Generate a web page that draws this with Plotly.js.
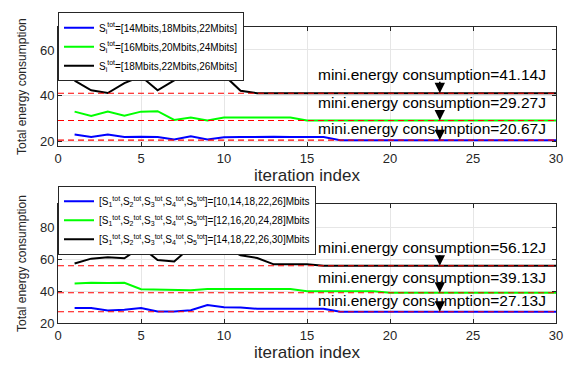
<!DOCTYPE html>
<html>
<head>
<meta charset="utf-8">
<script src="https://cdn.plot.ly/plotly-3.0.1.min.js"></script>
<style>html,body{margin:0;padding:0;background:#fff;}#chart{width:570px;height:366px;}</style>
</head>
<body>
<div id="chart"></div>
<script>
// ---- data ----
const iterations = [1,2,3,4,5,6,7,8,9,10,11,12,13,14,15,16,17,18,19,20,21,22,23,24,25,26,27,28,29,30];

// top panel: S_i^tot sets
const topNames = [
  'S<sub>i</sub><sup>tot</sup>=[14Mbits,18Mbits,22Mbits]',
  'S<sub>i</sub><sup>tot</sup>=[16Mbits,20Mbits,24Mbits]',
  'S<sub>i</sub><sup>tot</sup>=[18Mbits,22Mbits,26Mbits]'
];
const topBlue  = [23.1,22.0,23.1,22.0,22.2,22.0,21.0,22.4,21.0,21.9,22.0,22.2,22.2,22.0,22.0,22.0,20.67,20.67,20.67,20.67,20.67,20.67,20.67,20.67,20.67,20.67,20.67,20.67,20.67,20.67];
const topGreen = [33.1,31.2,33.2,31.3,33.1,33.3,29.5,30.5,29.3,30.5,30.5,30.5,30.5,30.5,29.27,29.27,29.27,29.27,29.27,29.27,29.27,29.27,29.27,29.27,29.27,29.27,29.27,29.27,29.27,29.27];
const topBlack = [46.6,42.4,41.2,45.5,48.5,42.4,46.7,51.0,52.0,49.0,42.2,41.14,41.14,41.14,41.14,41.14,41.14,41.14,41.14,41.14,41.14,41.14,41.14,41.14,41.14,41.14,41.14,41.14,41.14,41.14];
const topMin   = [20.67, 29.27, 41.14];

// bottom panel: five-user sets
const botNames = [
  '[S<sub>1</sub><sup>tot</sup>,S<sub>2</sub><sup>tot</sup>,S<sub>3</sub><sup>tot</sup>,S<sub>4</sub><sup>tot</sup>,S<sub>5</sub><sup>tot</sup>]=[10,14,18,22,26]Mbits',
  '[S<sub>1</sub><sup>tot</sup>,S<sub>2</sub><sup>tot</sup>,S<sub>3</sub><sup>tot</sup>,S<sub>4</sub><sup>tot</sup>,S<sub>5</sub><sup>tot</sup>]=[12,16,20,24,28]Mbits',
  '[S<sub>1</sub><sup>tot</sup>,S<sub>2</sub><sup>tot</sup>,S<sub>3</sub><sup>tot</sup>,S<sub>4</sub><sup>tot</sup>,S<sub>5</sub><sup>tot</sup>]=[14,18,22,26,30]Mbits'
];
const botBlue  = [29.4,29.4,27.9,28.3,29.4,27.2,27.2,28.0,31.3,30.0,29.8,29.0,29.0,29.0,29.0,29.0,27.13,27.13,27.13,27.13,27.13,27.13,27.13,27.13,27.13,27.13,27.13,27.13,27.13,27.13];
const botGreen = [45.0,45.4,45.2,45.4,41.3,41.0,40.6,40.6,41.5,41.5,41.5,41.5,41.5,41.5,40.0,40.0,40.0,40.0,40.0,39.13,39.13,39.13,39.13,39.13,39.13,39.13,39.13,39.13,39.13,39.13];
const botBlack = [57.5,60.6,61.5,60.8,68.0,59.8,58.8,68.0,70.0,68.0,62.7,61.0,57.0,57.0,57.0,56.12,56.12,56.12,56.12,56.12,56.12,56.12,56.12,56.12,56.12,56.12,56.12,56.12,56.12,56.12];
const botMin   = [27.13, 39.13, 56.12];

const xRange = [0, 30];
const arrowIter = 23;
const labelIter = 22.5;
const topLabelY = [25.7, 37.2, 49.4];
const topArrowTail = [23.3, 34.3, 46.8];
const botLabelY = [34.2, 48.75, 67.5];
const botArrowTail = [33.3, 46.7, 63.75];

// ---- styling ----
const colors = ['#0000ff', '#00ff00', '#000000'];
const FONT = 'Liberation Sans, Arial, Helvetica, sans-serif';

const traces = [];
function addPanel(series, names, mins, xa, ya, legendId) {
  series.forEach((ys, i) => {
    traces.push({x: iterations, y: ys, xaxis: xa, yaxis: ya, type: 'scatter', mode: 'lines',
      name: names[i], legend: legendId, line: {color: colors[i], width: 2}});
  });
  mins.forEach(m => {
    traces.push({x: xRange, y: [m, m], xaxis: xa, yaxis: ya, type: 'scatter', mode: 'lines',
      showlegend: false, hoverinfo: 'skip', line: {color: '#ff0000', width: 1.1, dash: '6px,4px'}});
  });
}
addPanel([topBlue, topGreen, topBlack], topNames, topMin, 'x', 'y', 'legend');
addPanel([botBlue, botGreen, botBlack], botNames, botMin, 'x2', 'y2', 'legend2');

const annotations = [];
function addNotes(mins, labelY, tails, xr, yr) {
  mins.forEach((m, i) => {
    annotations.push({xref: xr, yref: yr, x: labelIter, y: labelY[i], showarrow: false,
      text: 'mini.energy consumption=' + m.toFixed(2) + 'J',
      font: {family: FONT, size: 15.5, color: '#000'}, bgcolor: 'rgba(0,0,0,0)'});
    annotations.push({xref: xr, yref: yr, axref: xr, ayref: yr, x: arrowIter, y: m,
      ax: arrowIter, ay: tails[i], text: '', showarrow: true, arrowhead: 2, arrowsize: 1.3,
      arrowwidth: 1.6, arrowcolor: '#000', standoff: 0});
  });
}
addNotes(topMin, topLabelY, topArrowTail, 'x', 'y');
addNotes(botMin, botLabelY, botArrowTail, 'x2', 'y2');

function xAxis(anchor) {
  return {anchor: anchor, range: xRange, dtick: 5, tick0: 0, showgrid: true, gridcolor: '#e6e6e6',
    zeroline: false, showline: true, linecolor: '#262626', linewidth: 1, mirror: 'ticks',
    ticks: 'inside', ticklen: 4, tickcolor: '#262626',
    tickfont: {family: FONT, size: 13, color: '#262626'},
    title: {text: 'iteration index', font: {family: FONT, size: 17, color: '#262626'}, standoff: 4}};
}
function yAxis(anchor, domain, range) {
  return {anchor: anchor, domain: domain, range: range, dtick: 20, tick0: 0, showgrid: true,
    gridcolor: '#e6e6e6', zeroline: false, showline: true, linecolor: '#262626', linewidth: 1,
    mirror: 'ticks', ticks: 'inside', ticklen: 4, tickcolor: '#262626',
    tickfont: {family: FONT, size: 13, color: '#262626'},
    title: {text: 'Total energy consumption', font: {family: FONT, size: 12, color: '#262626'}, standoff: 10}};
}

const legendBase = {xanchor: 'left', yanchor: 'top', bgcolor: '#ffffff', bordercolor: '#262626',
  borderwidth: 1, font: {family: FONT, size: 10, color: '#000'}, itemwidth: 30, tracegroupgap: 0};

const layout = {
  width: 570, height: 366,
  margin: {l: 58, r: 14, t: 23, b: 42.7},
  paper_bgcolor: '#fff', plot_bgcolor: '#fff',
  showlegend: true,
  font: {family: FONT},
  xaxis: xAxis('y'),
  yaxis: yAxis('x', [0.597, 1], [18, 70]),
  xaxis2: xAxis('y2'),
  yaxis2: yAxis('x2', [0, 0.4016], [20, 95]),
  legend: Object.assign({}, legendBase, {x: 0, y: 1.05}),
  legend2: Object.assign({}, legendBase, {x: 0, y: 0.4639}),
  annotations: annotations
};

Plotly.newPlot('chart', traces, layout, {staticPlot: true, displayModeBar: false});
</script>
</body>
</html>
